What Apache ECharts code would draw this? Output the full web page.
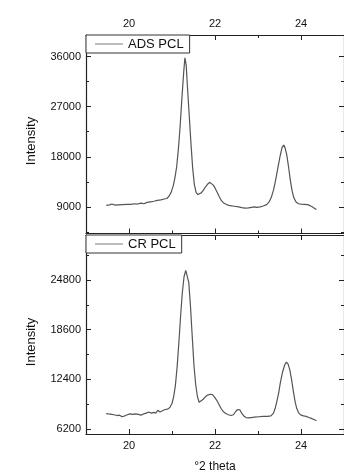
<!DOCTYPE html>
<html lang="en">

<head>
    <meta charset="UTF-8">
    <title>XRD PCL</title>
    <script src="https://cdn.jsdelivr.net/npm/echarts@6/dist/echarts.min.js"></script>
    <style>
        html, body { margin: 0; padding: 0; background: #fff; }
    </style>
</head>

<body>
    <div id="chart" style="height:475px; width:344px"></div>
    <script>
        // ADS PCL (upper panel)
        var thetaADS = [19.47, 19.55, 19.60, 19.68, 19.75, 19.85, 19.95, 20.05, 20.12, 20.20, 20.28, 20.35, 20.42, 20.50, 20.58, 20.66, 20.74, 20.82, 20.88, 20.93,
            20.98, 21.03, 21.07, 21.11, 21.15, 21.19, 21.23, 21.27, 21.30, 21.33, 21.36, 21.40, 21.44, 21.48, 21.52, 21.56, 21.60, 21.64, 21.68, 21.73,
            21.78, 21.83, 21.88, 21.92, 21.96, 22.00, 22.05, 22.10, 22.15, 22.20, 22.27, 22.35, 22.45, 22.55, 22.62, 22.70, 22.78, 22.85, 22.92, 22.97,
            23.05, 23.12, 23.20, 23.26, 23.31, 23.36, 23.41, 23.46, 23.51, 23.56, 23.60, 23.63, 23.67, 23.71, 23.75, 23.79, 23.83, 23.88, 23.94, 24.00,
            24.08, 24.15, 24.20, 24.26, 24.31, 24.36
        ]
        var intensityADS = [9250, 9350, 9500, 9300, 9350, 9400, 9450, 9450, 9550, 9500, 9650, 9550, 9800, 9900, 10000, 10150, 10250, 10400, 10500, 10900,
            11600, 12800, 14300, 16300, 19500, 23600, 28500, 33000, 35800, 34500, 30500, 25500, 20500, 16000, 13000, 11600, 11200, 11200, 11500, 12000,
            12600, 13100, 13400, 13300, 12900, 12400, 11600, 10800, 10100, 9700, 9400, 9200, 9100, 9000, 8850, 8750, 8800, 8900, 9000, 8900,
            9000, 9150, 9400, 9900, 10700, 12000, 13800, 15900, 18000, 19700, 20100, 19600, 18300, 16200, 13900, 12000, 10700, 9900, 9550, 9500,
            9450, 9400, 9250, 9000, 8750, 8500
        ]

        // CR PCL (lower panel)
        var thetaCR = [19.47, 19.52, 19.56, 19.60, 19.65, 19.72, 19.78, 19.84, 19.90, 19.96, 20.02, 20.08, 20.15, 20.22, 20.28, 20.34, 20.40, 20.46, 20.52, 20.57,
            20.62, 20.67, 20.72, 20.78, 20.84, 20.90, 20.95, 21.00, 21.04, 21.08, 21.12, 21.16, 21.20, 21.24, 21.28, 21.32, 21.36, 21.39, 21.43, 21.47,
            21.51, 21.55, 21.59, 21.63, 21.67, 21.72, 21.77, 21.83, 21.89, 21.94, 21.99, 22.04, 22.09, 22.14, 22.19, 22.25, 22.31, 22.37, 22.43, 22.48,
            22.53, 22.58, 22.62, 22.67, 22.72, 22.78, 22.84, 22.92, 23.02, 23.12, 23.22, 23.30, 23.36, 23.40, 23.44, 23.48, 23.52, 23.57, 23.62, 23.66,
            23.70, 23.74, 23.78, 23.82, 23.86, 23.90, 23.95, 24.00, 24.06, 24.12, 24.18, 24.24, 24.30, 24.36
        ]
        var intensityCR = [8150, 8100, 7900, 8050, 8000, 7900, 7950, 7750, 7850, 8000, 8100, 8050, 8100, 8050, 7950, 8100, 8200, 8350, 8200, 8300,
            8200, 8550, 8350, 8500, 8650, 8700, 8900, 9400, 10300, 11700, 14000, 17000, 20300, 23200, 25200, 26000, 26100, 24500, 21500, 17800,
            14200, 11800, 10300, 9550, 9500, 9900, 10200, 10450, 10550, 10500, 10200, 9800, 9300, 8800, 8400, 8150, 8000, 7900, 8000, 8400,
            8650, 8600, 8200, 7850, 7650, 7600, 7650, 7700, 7750, 7800, 7800, 7850, 8200, 8800, 9700, 10700, 12000, 13300, 14200, 14550,
            14300, 13600, 12400, 11000, 9700, 8800, 8200, 7950, 7850, 7800, 7650, 7550, 7400, 7250
        ]

        var xMajor = [20, 22, 24]
        var xMinor = [21, 23]
        var yMajorADS = [9000, 18000, 27000, 36000]
        var yMinorADS = [4500, 13500, 22500, 31500]
        var yMajorCR = [6200, 12400, 18600, 24800]
        var yMinorCR = [9300, 15500, 21700, 27900]

        var font = 'Liberation Sans, Arial, sans-serif'
        var axisColor = '#222'

        function pairs(xs, ys) {
            var out = []
            for (var i = 0; i < xs.length; i++) {
                out.push([xs[i], ys[i]])
            }
            return out
        }

        // one axis = line + ticks (+ labels), stacked several per side to get major/minor ticks
        function xAx(grid, pos, ticks, len, labels, line) {
            return {
                type: 'value',
                gridIndex: grid,
                position: pos,
                min: 19,
                max: 25,
                axisLine: { show: line, lineStyle: { color: axisColor, width: 1.2 } },
                axisTick: { show: true, inside: true, length: len, customValues: ticks, lineStyle: { color: axisColor, width: 1 } },
                axisLabel: {
                    show: labels,
                    customValues: xMajor,
                    margin: 6,
                    color: '#111',
                    fontSize: 11,
                    fontFamily: font,
                    formatter: function(v) { return String(v) }
                },
                splitLine: { show: false }
            }
        }

        function yAx(grid, pos, min, max, ticks, len, labels, line) {
            return {
                type: 'value',
                gridIndex: grid,
                position: pos,
                min: min,
                max: max,
                axisLine: { show: line, lineStyle: { color: axisColor, width: 1.2 } },
                axisTick: { show: true, inside: true, length: len, customValues: ticks, lineStyle: { color: axisColor, width: 1 } },
                axisLabel: {
                    show: labels,
                    customValues: labels ? ticks : [],
                    margin: 5,
                    color: '#111',
                    fontSize: 11,
                    fontFamily: font,
                    formatter: function(v) { return String(v) }
                },
                splitLine: { show: false }
            }
        }

        var xAxes = [
            // upper panel: 0 bottom major, 1 bottom minor, 2 top major (labels), 3 top minor
            xAx(0, 'bottom', xMajor, 5, false, true),
            xAx(0, 'bottom', xMinor, 3, false, false),
            xAx(0, 'top', xMajor, 5, true, true),
            xAx(0, 'top', xMinor, 3, false, false),
            // lower panel: 4 bottom major (labels), 5 bottom minor, 6 top major, 7 top minor
            xAx(1, 'bottom', xMajor, 5, true, true),
            xAx(1, 'bottom', xMinor, 3, false, false),
            xAx(1, 'top', xMajor, 5, false, true),
            xAx(1, 'top', xMinor, 3, false, false)
        ]
        xAxes[4].name = '°2 theta'
        xAxes[4].nameLocation = 'middle'
        xAxes[4].nameGap = 27
        xAxes[4].nameTextStyle = { color: '#111', fontSize: 12, fontFamily: font }

        var yAxes = [
            yAx(0, 'left', 4200, 39900, yMajorADS, 5, true, true),
            yAx(0, 'left', 4200, 39900, yMinorADS, 3, false, false),
            yAx(0, 'right', 4200, 39900, yMajorADS, 5, false, true),
            yAx(0, 'right', 4200, 39900, yMinorADS, 3, false, false),
            yAx(1, 'left', 5600, 30400, yMajorCR, 5, true, true),
            yAx(1, 'left', 5600, 30400, yMinorCR, 3, false, false),
            yAx(1, 'right', 5600, 30400, yMajorCR, 5, false, true),
            yAx(1, 'right', 5600, 30400, yMinorCR, 3, false, false)
        ]

        function legendBox(name, top) {
            return {
                data: [{ name: name, icon: 'rect' }],
                left: 86,
                top: top,
                orient: 'horizontal',
                backgroundColor: '#fff',
                borderColor: '#333',
                borderWidth: 1,
                borderRadius: 0,
                padding: [2, 6, 2, 9],
                itemWidth: 28,
                itemHeight: 1.3,
                itemStyle: { color: '#999' },
                selectedMode: false,
                textStyle: { color: '#111', fontSize: 13, lineHeight: 14, fontFamily: font }
            }
        }

        var myCharts = echarts.init(document.getElementById('chart'))
        var option = {
            backgroundColor: '#fff',
            animation: false,
            grid: [
                { left: 86, top: 35, width: 259, height: 198.5 },
                { left: 86, top: 235, width: 259, height: 199 }
            ],
            legend: [legendBox('ADS PCL', 35), legendBox('CR PCL', 235)],
            xAxis: xAxes,
            yAxis: yAxes,
            graphic: [
                { type: 'text', x: 31, y: 141, rotation: Math.PI / 2, style: { text: 'Intensity', align: 'center', verticalAlign: 'middle', fill: '#111', font: '13px ' + font } },
                { type: 'text', x: 31, y: 342, rotation: Math.PI / 2, style: { text: 'Intensity', align: 'center', verticalAlign: 'middle', fill: '#111', font: '13px ' + font } }
            ],
            series: [{
                    name: 'ADS PCL',
                    type: 'line',
                    xAxisIndex: 0,
                    yAxisIndex: 0,
                    symbol: 'none',
                    lineStyle: { color: '#555', width: 1.2 },
                    itemStyle: { color: '#555' },
                    data: pairs(thetaADS, intensityADS)
                },
                {
                    name: 'CR PCL',
                    type: 'line',
                    xAxisIndex: 4,
                    yAxisIndex: 4,
                    symbol: 'none',
                    lineStyle: { color: '#555', width: 1.2 },
                    itemStyle: { color: '#555' },
                    data: pairs(thetaCR, intensityCR)
                }
            ]
        }
        myCharts.setOption(option)
    </script>
</body>

</html>
